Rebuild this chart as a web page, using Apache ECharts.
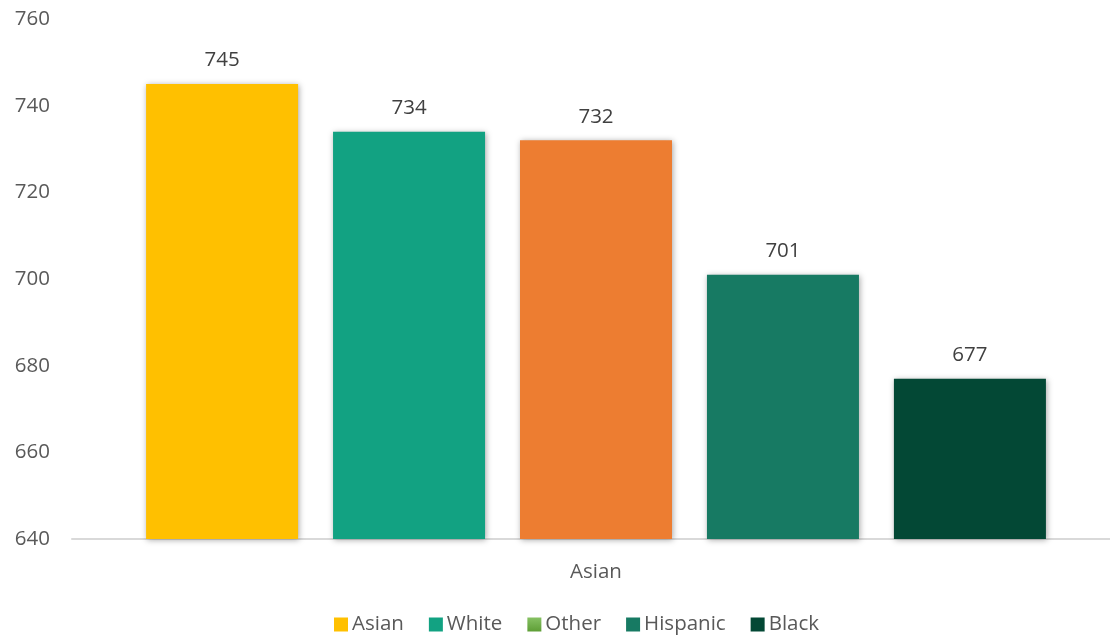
<!DOCTYPE html>
<html>
<head>
<meta charset="utf-8">
<script src="https://cdn.jsdelivr.net/npm/echarts@6/dist/echarts.min.js"></script>
<style>
  html, body { margin: 0; padding: 0; background: #fff; }
  #chart { width: 1110px; height: 636px; }
</style>
</head>
<body>
<div id="chart"></div>
<script>
// Average score by group (single category, one series per group)
const categories = ['Asian'];
const seriesNames = ['Asian', 'White', 'Other', 'Hispanic', 'Black'];
const seriesValues = [745, 734, 732, 701, 677];
const seriesColors = ['#FFC000', '#12A282', '#ED7D31', '#177A63', '#034835'];
const yTicks = { min: 640, max: 760, step: 20 };

const FONT = '"Open Sans", "Liberation Sans", sans-serif';
const FS = 20.5;

const chart = echarts.init(document.getElementById('chart'), null, { renderer: 'canvas' });

const series = seriesNames.map((name, i) => ({
  name: name,
  type: 'bar',
  data: [seriesValues[i]],
  barWidth: 152,
  barGap: '23%',
  itemStyle: {
    color: seriesColors[i],
    shadowBlur: 6,
    shadowColor: 'rgba(0,0,0,0.35)',
    shadowOffsetX: 1,
    shadowOffsetY: 1
  },
  label: {
    show: true,
    position: 'top',
    distance: 13,
    color: '#404040',
    fontFamily: FONT,
    fontSize: FS
  }
}));

const legendData = seriesNames.map((name) => {
  if (name === 'Other') {
    return {
      name: name,
      itemStyle: {
        color: new echarts.graphic.LinearGradient(0, 0, 0, 1, [
          { offset: 0, color: '#86C163' },
          { offset: 1, color: '#5E9E36' }
        ]),
        shadowBlur: 0
      }
    };
  }
  return { name: name, itemStyle: { shadowBlur: 0 } };
});

chart.setOption({
  animation: false,
  backgroundColor: '#ffffff',
  grid: { left: 72, right: -10, top: 19, bottom: 97, containLabel: false, outerBoundsMode: 'none' },
  legend: {
    data: legendData,
    left: 329,
    top: 609,
    icon: 'rect',
    itemWidth: 14,
    itemHeight: 14,
    itemGap: 25,
    textStyle: { color: '#595959', fontFamily: FONT, fontSize: FS, padding: [0, 0, 0, -1] }
  },
  xAxis: {
    type: 'category',
    data: categories,
    axisLine: { show: true, lineStyle: { color: '#D9D9D9', width: 2 } },
    axisTick: { show: false },
    axisLabel: { color: '#595959', fontFamily: FONT, fontSize: FS, margin: 23 }
  },
  yAxis: {
    type: 'value',
    min: yTicks.min,
    max: yTicks.max,
    interval: yTicks.step,
    axisLine: { show: false },
    axisTick: { show: false },
    splitLine: { show: false },
    axisLabel: { color: '#595959', fontFamily: FONT, fontSize: FS, margin: 22 }
  },
  series: series
});
</script>
</body>
</html>
